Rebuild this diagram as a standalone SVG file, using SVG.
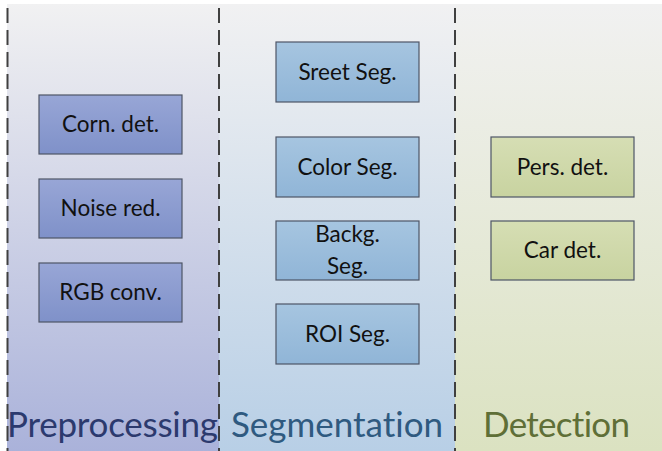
<svg xmlns="http://www.w3.org/2000/svg" width="662" height="451" viewBox="0 0 662 451">
<defs>
<linearGradient id="gPre" x1="0" y1="0" x2="0" y2="1"><stop offset="0" stop-color="#f1f1f2"/><stop offset="1" stop-color="#aab2da"/></linearGradient>
<linearGradient id="gSeg" x1="0" y1="0" x2="0" y2="1"><stop offset="0" stop-color="#f1f1f2"/><stop offset="1" stop-color="#b8cfe6"/></linearGradient>
<linearGradient id="gDet" x1="0" y1="0" x2="0" y2="1"><stop offset="0" stop-color="#f1f1f1"/><stop offset="1" stop-color="#dbe2c1"/></linearGradient>
<linearGradient id="bPre" x1="0" y1="0" x2="0" y2="1"><stop offset="0" stop-color="#98a6d6"/><stop offset="1" stop-color="#7f91c9"/></linearGradient>
<linearGradient id="bSeg" x1="0" y1="0" x2="0" y2="1"><stop offset="0" stop-color="#a6c5e0"/><stop offset="1" stop-color="#90b5d7"/></linearGradient>
<linearGradient id="bDet" x1="0" y1="0" x2="0" y2="1"><stop offset="0" stop-color="#d6deb4"/><stop offset="1" stop-color="#c8d3a0"/></linearGradient>
</defs>
<style>
.box{stroke:#4e5566;stroke-width:1.2}
.pre{fill:url(#bPre)}
.seg{fill:url(#bSeg)}
.det{fill:url(#bDet)}
.t{font-family:Lato,"Open Sans","Liberation Sans",sans-serif;font-size:22.5px;fill:#111;text-anchor:middle;font-variant-ligatures:none}
.lbl{font-family:Lato,"Open Sans","Liberation Sans",sans-serif;font-size:35px;font-variant-ligatures:none}
.dash{stroke:#404040;stroke-width:2;stroke-dasharray:15 7;fill:none}
</style>
<rect x="0" y="0" width="662" height="451" fill="#ffffff"/>
<g id="columns">
<rect x="7" y="4" width="212" height="447" fill="url(#gPre)"/>
<rect x="219" y="4" width="236" height="447" fill="url(#gSeg)"/>
<rect x="455" y="4" width="207" height="447" fill="url(#gDet)"/>
</g>
<g id="connectors">
<line class="dash" x1="7.5" y1="8" x2="7.5" y2="451"/>
<line class="dash" x1="219" y1="8" x2="219" y2="451"/>
<line class="dash" x1="455" y1="8" x2="455" y2="451"/>
</g>
<g id="corn"><rect class="box pre" x="39" y="95" width="143" height="59"/><text class="t" x="110.5" y="132">Corn. det.</text></g>
<g id="noise"><rect class="box pre" x="39" y="179" width="143" height="59"/><text class="t" x="110.5" y="216">Noise red.</text></g>
<g id="rgb"><rect class="box pre" x="39" y="263" width="143" height="59"/><text class="t" x="110.5" y="300">RGB conv.</text></g>
<g id="street"><rect class="box seg" x="276" y="42" width="143" height="60"/><text class="t" x="347.5" y="79.5">Sreet Seg.</text></g>
<g id="color"><rect class="box seg" x="276" y="137" width="143" height="60"/><text class="t" x="347.5" y="174.5">Color Seg.</text></g>
<g id="backg"><rect class="box seg" x="276" y="221" width="143" height="59"/><text class="t" x="347.5" y="242">Backg.</text><text class="t" x="347.5" y="274">Seg.</text></g>
<g id="roi"><rect class="box seg" x="276" y="304" width="143" height="60"/><text class="t" x="347.5" y="341.5">ROI Seg.</text></g>
<g id="pers"><rect class="box det" x="491" y="137" width="143" height="60"/><text class="t" x="562.5" y="174.5">Pers. det.</text></g>
<g id="car"><rect class="box det" x="491" y="221" width="143" height="59"/><text class="t" x="562.5" y="258">Car det.</text></g>
<g id="labels">
<text class="lbl" x="7" y="437" fill="#2c3a6e" textLength="211">Preprocessing</text>
<text class="lbl" x="231" y="437" fill="#2f5a80" textLength="212">Segmentation</text>
<text class="lbl" x="483" y="437" fill="#5f6f37" textLength="147">Detection</text>
</g>
</svg>
